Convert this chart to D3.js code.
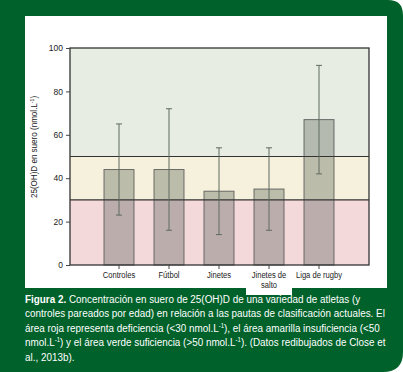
<!DOCTYPE html>
<html>
<head>
<meta charset="utf-8">
<script src="https://cdnjs.cloudflare.com/ajax/libs/d3/7.8.5/d3.min.js"></script>
<style>
  body { margin: 0; background: #fff; }
  svg text { font-family: "Liberation Sans", Arial, sans-serif; }
</style>
</head>
<body>
<svg id="chart" width="403" height="372"></svg>
<script>
// data
var categories = ["Controles", "Fútbol", "Jinetes", "Jinetes de\nsalto", "Liga de rugby"];
var means = [44, 44, 34, 35, 67];
var upper = [65, 72, 54, 54, 92];
var lower = [23, 16, 14, 16, 42];
var yTicks = [0, 20, 40, 60, 80, 100];
// zones: deficiency < 30, insufficiency < 50, sufficiency > 50
var zones = [
  {from: 0, to: 30, color: "#f4d9db"},
  {from: 30, to: 50, color: "#f6f1dc"},
  {from: 50, to: 100, color: "#e8ede3"}
];
var captionLines = [
  [{b: true, t: "Figura 2."}, {t: " Concentración en suero de 25(OH)D de una variedad de atletas (y"}],
  [{t: "controles pareados por edad) en relación a las pautas de clasificación actuales. El"}],
  [{t: "área roja representa deficiencia (<30 nmol.L"}, {s: true, t: "-1"}, {t: "), el área amarilla insuficiencia (<50"}],
  [{t: "nmol.L"}, {s: true, t: "-1"}, {t: ") y el área verde suficiencia (>50 nmol.L"}, {s: true, t: "-1"}, {t: "). (Datos redibujados de Close et"}],
  [{t: "al., 2013b)."}]
];

var svg = d3.select("#chart");

//green frame with rounded right corners
svg.append("path")
  .attr("d", "M0,0 H388 Q403,0 403,15 V352 Q403,372 383,372 H0 Z")
  .attr("fill", "#00622a");

//white panel
svg.append("rect")
  .attr("x", 25).attr("y", 16)
  .attr("width", 362).attr("height", 272)
  .attr("fill", "#fff");
svg.append("rect")
  .attr("x", 246).attr("y", 286)
  .attr("width", 46).attr("height", 9)
  .attr("fill", "#fff");

var pLeft = 70, pRight = 369, pTop = 48, pBottom = 265;

var y = d3.scaleLinear().domain([0, 100]).range([pBottom, pTop]);
var x = d3.scaleBand().domain(categories).range([94, 344])
  .paddingInner(0.4).paddingOuter(0.2);

//zones
svg.append("g").selectAll("rect")
  .data(zones).enter().append("rect")
  .attr("x", pLeft)
  .attr("width", pRight - pLeft)
  .attr("y", d => y(d.to))
  .attr("height", d => y(d.from) - y(d.to))
  .attr("fill", d => d.color);

//bars
svg.append("g").selectAll("rect")
  .data(means).enter().append("rect")
  .attr("x", (d, i) => x(categories[i]))
  .attr("width", x.bandwidth())
  .attr("y", d => y(d))
  .attr("height", d => y(0) - y(d))
  .attr("fill", "#5f665c")
  .attr("fill-opacity", 0.38)
  .attr("stroke", "#4f4f4f")
  .attr("stroke-opacity", 0.8)
  .attr("stroke-width", 1);

//zone boundary lines
svg.append("g").selectAll("line")
  .data([30, 50]).enter().append("line")
  .attr("x1", pLeft).attr("x2", pRight)
  .attr("y1", d => y(d)).attr("y2", d => y(d))
  .attr("stroke", "#333").attr("stroke-width", 1.2);

//error bars
var err = svg.append("g").attr("stroke", "#5e6b5e").attr("stroke-width", 1);
categories.forEach(function(c, i) {
  var cx = x(c) + x.bandwidth() / 2;
  err.append("line").attr("x1", cx).attr("x2", cx)
    .attr("y1", y(lower[i])).attr("y2", y(upper[i]));
  err.append("line").attr("x1", cx - 3).attr("x2", cx + 3)
    .attr("y1", y(lower[i])).attr("y2", y(lower[i]));
  err.append("line").attr("x1", cx - 3).attr("x2", cx + 3)
    .attr("y1", y(upper[i])).attr("y2", y(upper[i]));
});

//plot frame
svg.append("rect")
  .attr("x", pLeft).attr("y", pTop)
  .attr("width", pRight - pLeft).attr("height", pBottom - pTop)
  .attr("fill", "none")
  .attr("stroke", "#333").attr("stroke-width", 1.3);

//y axis
var yAxis = svg.append("g")
  .attr("transform", "translate(" + pLeft + ",0)")
  .call(d3.axisLeft(y).tickValues(yTicks).tickSize(4).tickPadding(3));
yAxis.select(".domain").remove();
yAxis.selectAll("line").attr("stroke", "#444");
yAxis.selectAll("text").attr("font-size", 8.5).attr("fill", "#222")
  .style("font-family", "Liberation Sans, Arial, sans-serif");

//x axis
var xAxis = svg.append("g")
  .attr("transform", "translate(0," + pBottom + ")")
  .call(d3.axisBottom(x).tickSize(4).tickPadding(3).tickFormat(""));
xAxis.select(".domain").remove();
xAxis.selectAll("line").attr("stroke", "#444");
xAxis.selectAll(".tick").each(function(d) {
  var t = d3.select(this).append("text")
    .attr("fill", "#222").attr("font-size", 9.5)
    .attr("transform", "scale(0.8,1)")
    .attr("text-anchor", "middle");
  d.split("\n").forEach(function(part, k) {
    t.append("tspan").attr("x", 0).attr("y", 13 + k * 10).text(part);
  });
});

//y label
var yl = svg.append("text")
  .attr("transform", "translate(37,147) rotate(-90) scale(0.85,1)")
  .attr("text-anchor", "middle")
  .attr("font-size", 9.5)
  .attr("fill", "#222");
yl.append("tspan").text("25(OH)D en suero (nmol.L");
yl.append("tspan").attr("dy", -3).attr("font-size", 6).text("-1");
yl.append("tspan").attr("dy", 3).text(")");

//caption, condensed like the original typeface
var cap = svg.append("g")
  .attr("transform", "translate(25,0) scale(0.86,1)")
  .attr("fill", "#fff").attr("font-size", 11.5);
captionLines.forEach(function(line, i) {
  var t = cap.append("text").attr("x", 0).attr("y", 303 + i * 14.4);
  var shifted = false;
  line.forEach(function(seg) {
    var sp = t.append("tspan").text(seg.t);
    if (seg.b) sp.attr("font-weight", "bold");
    if (seg.s) { sp.attr("font-size", 7).attr("dy", -4); shifted = true; }
    else if (shifted) { sp.attr("dy", 4); shifted = false; }
  });
});
</script>
</body>
</html>
